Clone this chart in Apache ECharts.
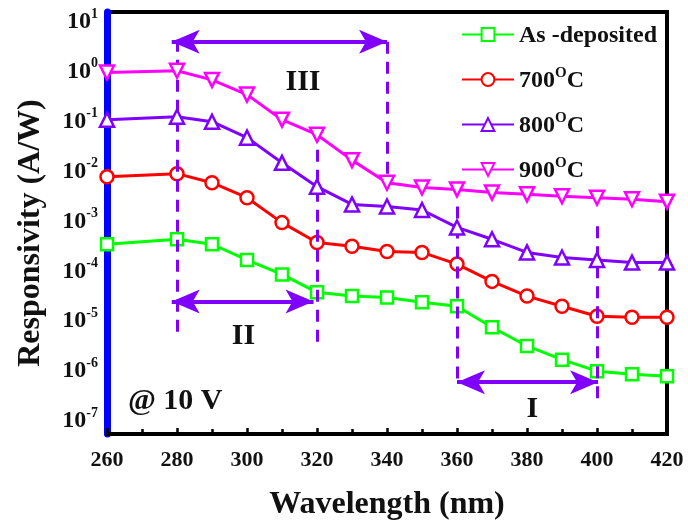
<!DOCTYPE html>
<html>
<head>
<meta charset="utf-8">
<script src="https://cdn.jsdelivr.net/npm/echarts@6/dist/echarts.min.js"></script>
<style>html,body{margin:0;padding:0;background:#fff;}#c{width:688px;height:526px;}</style>
</head>
<body>
<div id="c"></div>
<script>
// ---- data ----
const wavelengths = [260, 280, 290, 300, 310, 320, 330, 340, 350, 360, 370, 380, 390, 400, 410, 420];
const seriesNames = ['As -deposited', '700°C', '800°C', '900°C'];
const asDeposited = [3.5e-4, 4.4e-4, 3.5e-4, 1.7e-4, 8.7e-5, 3.8e-5, 3.2e-5, 3.0e-5, 2.4e-5, 2.0e-5, 7.6e-6, 3.2e-6, 1.7e-6, 1.0e-6, 8.7e-7, 7.9e-7];
const t700 = [7.9e-3, 9.1e-3, 6.0e-3, 3.0e-3, 9.5e-4, 3.8e-4, 3.2e-4, 2.5e-4, 2.4e-4, 1.4e-4, 6.3e-5, 3.2e-5, 2.0e-5, 1.26e-5, 1.2e-5, 1.2e-5];
const t800 = [0.11, 0.126, 0.10, 0.048, 0.015, 5.0e-3, 2.2e-3, 2.0e-3, 1.7e-3, 7.6e-4, 4.4e-4, 2.4e-4, 1.9e-4, 1.7e-4, 1.5e-4, 1.5e-4];
const t900 = [0.97, 1.05, 0.69, 0.35, 0.11, 0.055, 0.017, 6.0e-3, 4.8e-3, 4.4e-3, 3.8e-3, 3.5e-3, 3.2e-3, 3.0e-3, 2.8e-3, 2.5e-3];
const xTicks = [260, 280, 300, 320, 340, 360, 380, 400, 420];
const yDecades = [-7, -6, -5, -4, -3, -2, -1, 0, 1];
// region annotations: dashed boundaries [x, yFrom, yTo]
const boundaries = [[280, 4.4, 6e-6], [320, 0.069, 2.75e-6], [340, 4.0, 5.5e-3], [360, 2.0e-3, 6e-7], [400, 8e-4, 2.4e-7]];
// double arrows [xFrom, xTo, y]
const arrows = [[278.5, 340, 4.0], [278.5, 319, 2.5e-5], [360, 400.3, 6.0e-7]];
// text labels [x, y, text]
const notes = [[316, 0.63, 'III'], [299, 5.0e-6, 'II'], [381.5, 1.74e-7, 'I'], [279.5, 2.5e-7, '@ 10 V']];

const colors = ['#00ff00', '#ff0000', '#7f00ff', '#ff00ff'];
const symbols = ['rect', 'circle', 'triangle', 'triangle'];
const symRot = [0, 0, 0, 180];
const symSizes = [12, 13, 14, 14];
const values = [asDeposited, t700, t800, t900];
const FONT = 'Liberation Serif';
const purple = '#7f00ff';

const series = values.map((vals, i) => ({
  name: seriesNames[i],
  type: 'line',
  data: wavelengths.map((w, j) => [w, vals[j]]),
  symbol: symbols[i],
  symbolSize: symSizes[i],
  symbolRotate: symRot[i],
  showAllSymbol: true,
  lineStyle: { color: colors[i], width: 3 },
  itemStyle: { color: '#fff', borderColor: colors[i], borderWidth: 2.5 },
  z: 3 + i
}));

series[0].markLine = {
  silent: true,
  animation: false,
  symbol: ['none', 'none'],
  label: { show: false },
  lineStyle: { color: purple, width: 3, type: [12, 8] },
  data: boundaries.map(b => [{ coord: [b[0], b[1]] }, { coord: [b[0], b[2]] }])
    .concat(arrows.map(a => [
      { coord: [a[0], a[2]], symbol: 'arrow', symbolSize: [18, 28], lineStyle: { type: 'solid', width: 4, color: purple } },
      { coord: [a[1], a[2]], symbol: 'arrow', symbolSize: [18, 28] }
    ]))
};
series[0].markPoint = {
  silent: true,
  animation: false,
  symbol: 'circle',
  symbolSize: 0,
  label: {
    show: true, position: 'inside', color: '#111',
    fontFamily: FONT, fontWeight: 'bold', fontSize: 30,
    formatter: p => p.name
  },
  data: notes.map(n => ({ name: n[2], coord: [n[0], n[1]] }))
};

const legendFmt = name => {
  const m = name.match(/^(\d+)°C$/);
  if (m) return '{b|' + m[1] + '}{s|O}{b|C}';
  return '{b|' + name + '}';
};

const chart = echarts.init(document.getElementById('c'), null, { renderer: 'canvas' });
chart.setOption({
  animation: false,
  backgroundColor: '#fff',
  grid: { left: 107, right: 21, top: 12, bottom: 91, show: true, borderColor: '#000', borderWidth: 4, backgroundColor: 'transparent' },
  legend: {
    data: seriesNames,
    orient: 'vertical',
    left: 456,
    top: 19,
    itemWidth: 52,
    itemHeight: 16,
    itemGap: 18,
    formatter: legendFmt,
    textStyle: {
      rich: {
        b: { fontFamily: FONT, fontWeight: 'bold', fontSize: 24, color: '#111', padding: [3, 0, 0, 0] },
        s: { fontFamily: FONT, fontWeight: 'bold', fontSize: 15, color: '#111', verticalAlign: 'top' }
      }
    }
  },
  xAxis: {
    type: 'value',
    min: 260, max: 420, interval: 20,
    name: 'Wavelength (nm)',
    nameLocation: 'middle',
    nameGap: 55,
    nameTextStyle: { fontFamily: FONT, fontWeight: 'bold', fontSize: 32, color: '#111' },
    axisLine: { lineStyle: { color: '#000', width: 4 } },
    axisTick: { inside: true, length: 6, lineStyle: { color: '#000', width: 2.5 } },
    minorTick: { show: true, splitNumber: 2, length: 5, lineStyle: { color: '#000', width: 2.5 } },
    splitLine: { show: false },
    axisLabel: {
      margin: 15,
      fontFamily: FONT, fontWeight: 'bold', fontSize: 22, color: '#111',
      formatter: v => (xTicks.indexOf(v) >= 0 ? String(v) : '')
    }
  },
  yAxis: {
    type: 'log',
    logBase: 10,
    min: Math.pow(10, -7.26),
    max: Math.pow(10, 1.2),
    name: 'Responsivity (A/W)',
    nameLocation: 'middle',
    nameGap: 60,
    nameTextStyle: { fontFamily: FONT, fontWeight: 'bold', fontSize: 32, color: '#111', padding: [0, 20, 0, 0] },
    axisLine: { lineStyle: { color: '#0000ff', width: 7 } },
    axisTick: { show: false },
    splitLine: { show: false },
    axisLabel: {
      margin: 9,
      formatter: v => {
        const l = Math.log10(v);
        const e = Math.round(l);
        if (Math.abs(l - e) > 0.02 || yDecades.indexOf(e) < 0) return '';
        return '{b|10}{s|' + e + '}';
      },
      rich: {
        b: { fontFamily: FONT, fontWeight: 'bold', fontSize: 24, color: '#111', padding: [3, 0, 3, 0] },
        s: { fontFamily: FONT, fontWeight: 'bold', fontSize: 14, color: '#111', verticalAlign: 'top' }
      }
    }
  },
  series: series
});
</script>
</body>
</html>
